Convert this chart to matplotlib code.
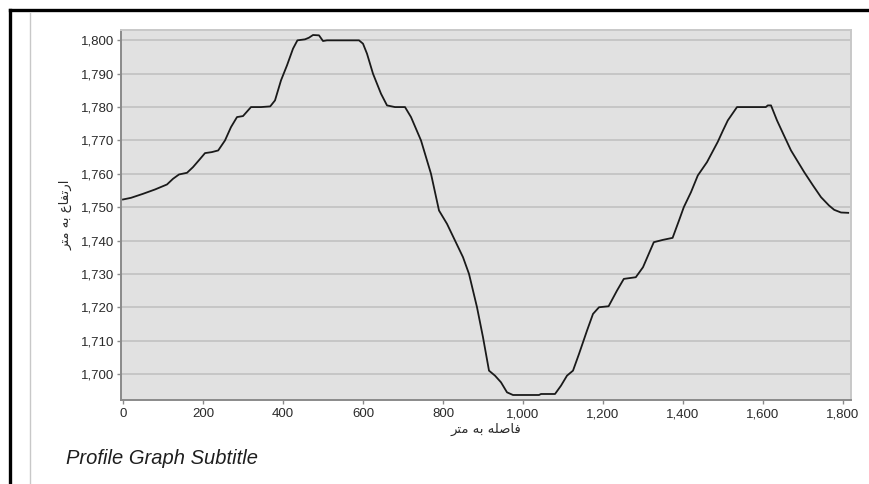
import matplotlib
matplotlib.use('Agg')
from matplotlib import pyplot as plt
from matplotlib.lines import Line2D
from matplotlib.ticker import StrMethodFormatter

# distance along profile [m] and elevation [m]
dist = [0, 20, 50, 80, 110, 125, 140, 160, 175, 193, 205, 222, 238, 255, 270,
        285, 300, 320, 345, 368, 380, 395, 410, 425, 436, 455, 465, 475, 490,
        500, 510, 560, 590, 600, 610, 625, 645, 660, 680, 705, 720, 745, 770,
        790, 810, 830, 850, 865, 885, 900, 915, 930, 945, 960, 975, 1040, 1045,
        1080, 1095, 1110, 1125, 1140, 1160, 1175, 1190, 1214, 1235, 1252, 1282,
        1300, 1327, 1350, 1374, 1390, 1402, 1420, 1437, 1460, 1487, 1500, 1512,
        1535, 1607, 1612, 1620, 1635, 1652, 1670, 1703, 1725, 1745, 1765, 1778,
        1795, 1813]
elev = [1752.3, 1752.8, 1754.0, 1755.3, 1756.8, 1758.5, 1759.8, 1760.3, 1762.0,
        1764.5, 1766.2, 1766.5, 1767.0, 1770.0, 1774.0, 1777.0, 1777.3, 1780.0,
        1780.0, 1780.2, 1782.0, 1788.0, 1792.5, 1797.5, 1800.0, 1800.3, 1800.8,
        1801.6, 1801.5, 1799.8, 1800.0, 1800.0, 1800.0, 1799.0, 1796.0, 1790.0,
        1784.0, 1780.5, 1780.0, 1780.0, 1777.0, 1770.0, 1760.0, 1749.0, 1745.0,
        1740.0, 1735.0, 1730.0, 1720.0, 1711.0, 1701.0, 1699.5, 1697.5, 1694.5,
        1693.7, 1693.7, 1694.0, 1694.0, 1696.5, 1699.5, 1701.0, 1706.0, 1713.0,
        1718.0, 1720.0, 1720.3, 1725.0, 1728.5, 1729.0, 1732.0, 1739.5, 1740.2,
        1740.8, 1746.0, 1750.0, 1754.5, 1759.5, 1763.5, 1769.6, 1773.0, 1776.0,
        1780.0, 1780.0, 1780.5, 1780.5, 1776.0, 1771.6, 1767.0, 1760.5, 1756.5,
        1753.0, 1750.5, 1749.2, 1748.4, 1748.3]

x_ticks = [0, 200, 400, 600, 800, 1000, 1200, 1400, 1600, 1800]
y_ticks = [1700, 1710, 1720, 1730, 1740, 1750, 1760, 1770, 1780, 1790, 1800]

# persian labels written as presentation forms in visual order
xlabel = '\uFEAE\uFE98\uFEE3 \uFEEA\uFE91 \uFEEA\uFEE0\uFEBB\uFE8E\uFED3'   # فاصله به متر
ylabel = '\uFEAE\uFE98\uFEE3 \uFEEA\uFE91 \uFEC9\uFE8E\uFED4\uFE97\uFEAD\uFE8D'  # ارتفاع به متر
subtitle = 'Profile Graph Subtitle'

W, H = 870, 484
fig = plt.figure(figsize=(W/100, H/100), dpi=100)
fig.patch.set_facecolor('white')

# frame lines of the report page
fig.add_artist(Line2D([10/W, 1.0], [1-10/H, 1-10/H], color='black', lw=2.4))
fig.add_artist(Line2D([10/W, 10/W], [0, 1-10/H], color='black', lw=2.4))
fig.add_artist(Line2D([30/W, 30/W], [0, 1-13/H], color='#c8c8c8', lw=1.0))

ax = fig.add_axes([121/W, 1-400/H, (851-121)/W, (400-30)/H])
ax.set_facecolor('#e1e1e1')
ax.plot(dist, elev, color='#1a1a1a', lw=1.3, zorder=3)

ax.set_xlim(-5, 1820)
ax.set_ylim(1692.2, 1803.1)
ax.set_xticks(x_ticks)
ax.set_yticks(y_ticks)
ax.xaxis.set_major_formatter(StrMethodFormatter('{x:,.0f}'))
ax.yaxis.set_major_formatter(StrMethodFormatter('{x:,.0f}'))
ax.grid(axis='y', color='#c6c6c6', lw=1.4)
ax.set_axisbelow(True)

for s in ['left', 'bottom']:
    ax.spines[s].set_color('#8a8a8a')
    ax.spines[s].set_linewidth(1.4)
for s in ['top', 'right']:
    ax.spines[s].set_color('#c8c8c8')
    ax.spines[s].set_linewidth(1.4)

for lab in ax.get_xticklabels() + ax.get_yticklabels():
    lab.set_fontfamily('Liberation Sans')
    lab.set_fontsize(9.5)
    lab.set_color('#2a2a2a')
ax.tick_params(axis='y', length=3, width=1, color='#8a8a8a', pad=2)
ax.tick_params(axis='x', length=3, width=1, color='#8a8a8a', pad=3)

ax.set_xlabel(xlabel, family='DejaVu Sans', fontsize=9.5, color='#2a2a2a', labelpad=2)
ax.set_ylabel(ylabel, family='DejaVu Sans', fontsize=9.5, color='#2a2a2a', labelpad=6)

fig.text(66/W, 1-458/H, subtitle, family='Liberation Sans', style='italic',
         fontsize=14.5, color='#1e1e1e', va='center', ha='left')

fig.savefig('out.png', dpi=100)
